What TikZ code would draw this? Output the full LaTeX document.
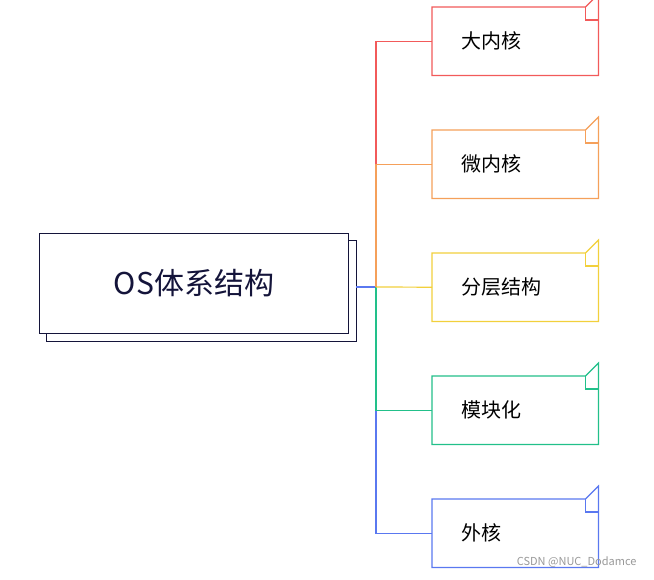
\documentclass[tikz,border=0pt]{standalone}
\usepackage{fontspec}
\setmainfont{Noto Sans CJK SC}
\definecolor{cred}{HTML}{F25A5A}
\definecolor{corange}{HTML}{F5A05A}
\definecolor{cyellow}{HTML}{F2D03C}
\definecolor{cgreen}{HTML}{22C08A}
\definecolor{cblue}{HTML}{5A78F0}
\definecolor{cdark}{HTML}{14143A}
\tikzset{
  child/.style={minimum width=166pt,minimum height=68pt,inner sep=0pt,font=\fontsize{20}{24}\selectfont,text=black},
  conn/.style={line width=1.2pt},
}
\begin{document}
\begin{tikzpicture}[x=1pt,y=-1pt]
\useasboundingbox[fill=white] (0,0) rectangle (654,579);
% main box with shadow
\draw[cdark,line width=1pt,fill=white] (46,240) rectangle (356,341);
\node[draw=cdark,line width=1pt,fill=white,minimum width=309pt,minimum height=100pt,inner sep=0pt,anchor=north west,font=\fontsize{30}{36}\selectfont,text=cdark] (main) at (39,233) {OS体系结构};
\coordinate (mainr) at (356,287);
\coordinate (junc) at (376,287);
% children
\foreach \n/\t/\c/\y in {a/大内核/cred/7,b/微内核/corange/130,c/分层结构/cyellow/253,d/模块化/cgreen/376,e/外核/cblue/499}{
  \node[child,anchor=north west] (\n) at (432,\y) {};
  \node[font=\fontsize{20}{24}\selectfont,anchor=west] at ([xshift=26pt]\n.west) {\t};
  \draw[\c,line width=1.2pt,line join=miter] (\n.north west) -- ([xshift=-13pt]\n.north east) -- ([yshift=13pt]\n.north east) -- (\n.south east) -- (\n.south west) -- cycle;
  \draw[\c,line width=1.2pt] ([xshift=-13pt]\n.north east) -- ++(0,13) -- ++(13,0);
}
% connectors
\draw[conn,cblue] (mainr) -- (junc) |- (e.west);
\draw[conn,cgreen] (junc) |- (d.west);
\draw[conn,cyellow] (junc) -- (c.west);
\draw[conn,corange] (junc) |- (b.west);
\draw[conn,cred] (b.west -| junc) |- (a.west);
\node[anchor=east,text=gray!80,font=\fontsize{11}{13}\selectfont] (wm) at (640,562) {CSDN @NUC\_Dodamce};
\end{tikzpicture}
\end{document}
